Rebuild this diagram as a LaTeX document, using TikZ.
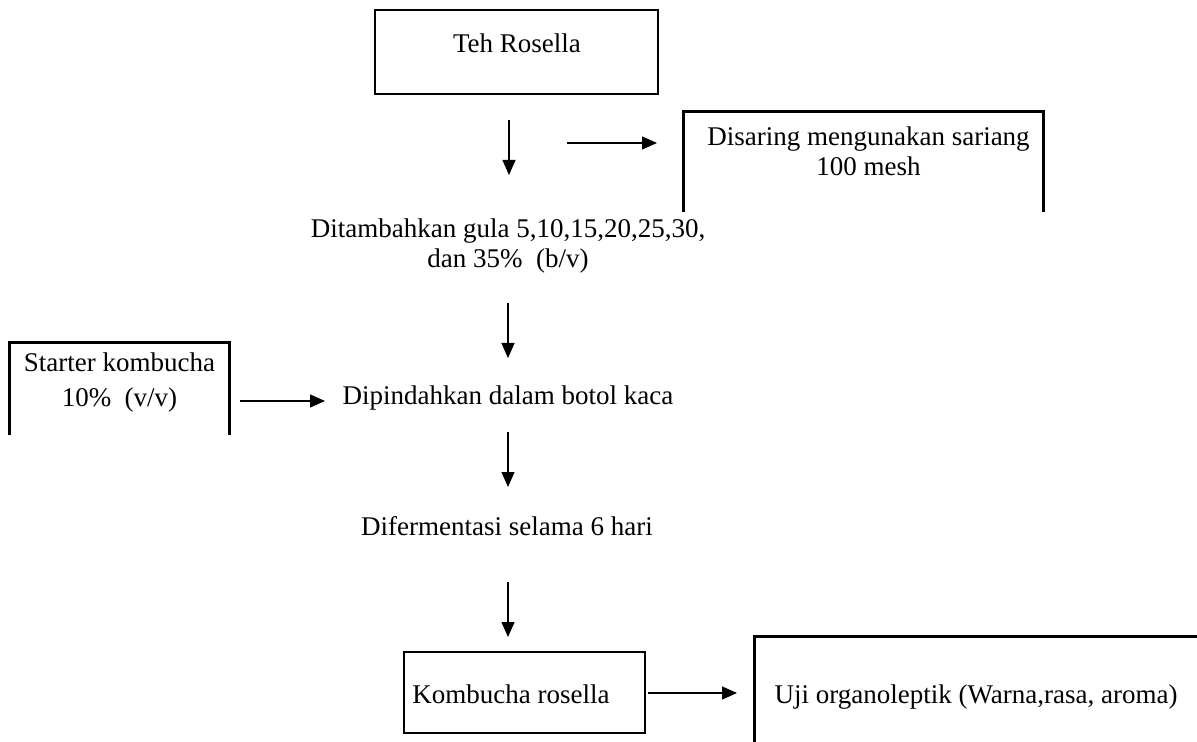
\documentclass[tikz,border=0pt]{standalone}
\usepackage{fontspec}
\setmainfont{Liberation Serif}
\usetikzlibrary{arrows.meta}
\begin{document}
\begin{tikzpicture}[x=0.5pt,y=-0.5pt,
  procbox/.style={draw,line width=1.4pt,inner sep=0pt},
  openbox/.style={inner sep=0pt},
  boxline/.style={line width=1.4pt},
  flowarrow/.style={line width=0.65pt,-{Triangle[length=7.5pt,width=6.5pt]}},
  lbl/.style={inner sep=0pt,anchor=base,align=center,font=\fontsize{13.5}{15}\selectfont},
  lblwide/.style={lbl,font=\fontsize{13.5}{17.5}\selectfont}]
\useasboundingbox (0,0) rectangle (1197,742);

% boxes
\node[procbox,minimum width=141.5pt,minimum height=42pt] (teh) at (516.5,52) {};
\node[procbox,minimum width=120.5pt,minimum height=40.5pt] (komb) at (524.5,692.5) {};
\node[openbox,minimum width=179.5pt,minimum height=50pt] (dis) at (863.5,162) {};
\node[openbox,minimum width=109.5pt,minimum height=46pt] (sta) at (119.5,389) {};
\node[openbox,minimum width=221pt,minimum height=52.5pt] (uji) at (976,689.5) {};
\draw[boxline] (dis.south west) -- (dis.north west) -- (dis.north east) -- (dis.south east);
\draw[boxline] (sta.south west) -- (sta.north west) -- (sta.north east) -- (sta.south east);
\draw[boxline] (uji.south west) -- (uji.north west) -- (uji.north east);

% texts (base anchor = baseline of the last line)
\node[lbl] (tehT) at (517,53) {Teh Rosella};
\node[lbl] (disT) at (868.5,176) {Disaring mengunakan sariang\\100 mesh};
\node[lbl] (tamT) at (508,268) {Ditambahkan gula 5,10,15,20,25,30,\\dan 35\%\ \ (b/v)};
\node[lblwide] (staT) at (119.5,407) {Starter kombucha\\10\%\ \ (v/v)};
\node[lbl] (pinT) at (508,405) {Dipindahkan dalam botol kaca};
\node[lbl] (ferT) at (507,535) {Difermentasi selama 6 hari};
\node[lbl] (kombT) at (511,703) {Kombucha rosella};
\node[lbl] (ujiT) at (976,703) {Uji organoleptik (Warna,rasa, aroma)};

% arrow end points
\coordinate (d1a) at (509,120); \coordinate (d1b) at (509,175);
\coordinate (h1a) at (567,143); \coordinate (h1b) at (657,143);
\coordinate (d2a) at (508,303); \coordinate (d2b) at (508,358);
\coordinate (h2a) at (240,401); \coordinate (h2b) at (325,401);
\coordinate (d3a) at (508,432); \coordinate (d3b) at (508,487);
\coordinate (d4a) at (508,582); \coordinate (d4b) at (508,637);
\coordinate (h3a) at (648,693); \coordinate (h3b) at (737,693);

\draw[flowarrow] (d1a) -- (d1b);
\draw[flowarrow] (h1a) -- (h1b);
\draw[flowarrow] (d2a) -- (d2b);
\draw[flowarrow] (h2a) -- (h2b);
\draw[flowarrow] (d3a) -- (d3b);
\draw[flowarrow] (d4a) -- (d4b);
\draw[flowarrow] (h3a) -- (h3b);
\end{tikzpicture}
\end{document}
